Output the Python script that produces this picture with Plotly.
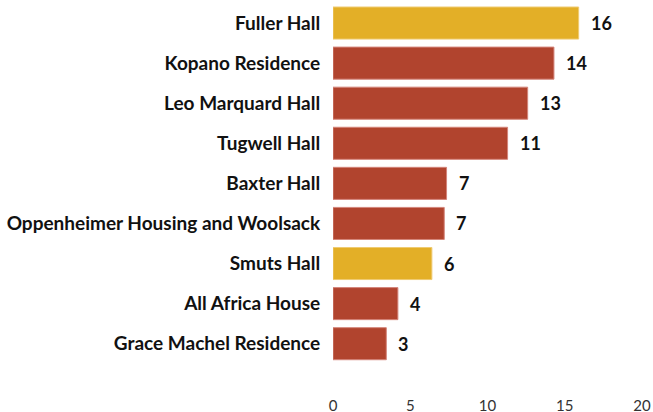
import plotly.graph_objects as go

residences = ["Fuller Hall", "Kopano Residence", "Leo Marquard Hall", "Tugwell Hall",
              "Baxter Hall", "Oppenheimer Housing and Woolsack", "Smuts Hall",
              "All Africa House", "Grace Machel Residence"]
values = [15.9, 14.3, 12.6, 11.3, 7.35, 7.2, 6.4, 4.2, 3.45]
highlight = [True, False, False, False, False, False, True, False, False]

GOLD = "#E3AF27"
RED = "#B1442E"
colors = [GOLD if h else RED for h in highlight]
line_colors = ["#EFCB72" if h else "#D4857A" for h in highlight]

fig = go.Figure()
fig.add_trace(go.Bar(
    x=values, y=residences, orientation="h",
    marker=dict(color=colors, line=dict(color=line_colors, width=1)),
    hoverinfo="skip",
))
for v, r in zip(values, residences):
    fig.add_annotation(x=v, y=r, text=f"{round(v)}", showarrow=False,
                       xanchor="left", xshift=10,
                       font=dict(family="Lato", size=18, color="#111111", weight="bold"))

fig.update_layout(
    width=653, height=412,
    margin=dict(l=333, r=11, t=3, b=17),
    plot_bgcolor="white", paper_bgcolor="white",
    bargap=0.2, showlegend=False,
    font=dict(family="Lato"),
    xaxis=dict(range=[0, 20], tickvals=[0, 5, 10, 15, 20], showgrid=False,
               zeroline=False, showline=False, automargin=False,
               ticks="",
               tickfont=dict(family="Lato", size=15, color="#333333")),
    yaxis=dict(range=[9.28, -0.5], autorange=False, showgrid=False, automargin=False,
               categoryorder="array", categoryarray=residences,
               ticks="outside", ticklen=8, tickcolor="rgba(0,0,0,0)",
               tickfont=dict(family="Lato", size=19, color="#111111", weight="bold")),
)
fig.write_html("out.html", config={"displayModeBar": False},
               post_script="document.body.style.margin='0';")
